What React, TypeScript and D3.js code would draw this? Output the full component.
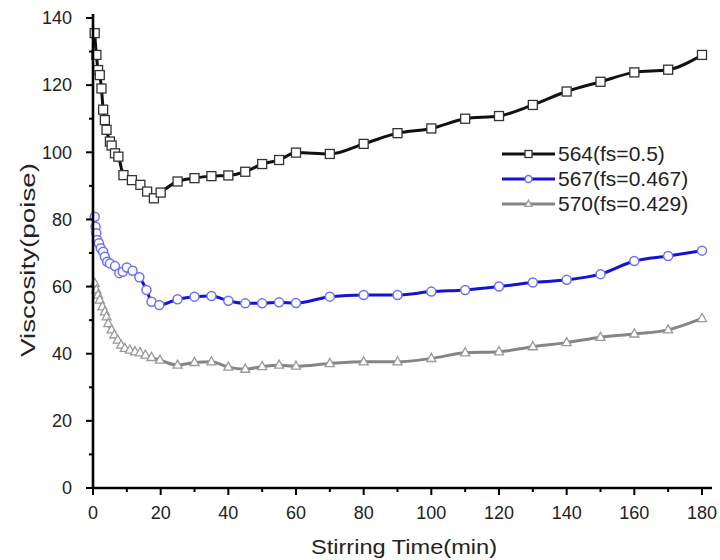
import React from "react";
import * as d3 from "d3";

const xTicks = [0, 20, 40, 60, 80, 100, 120, 140, 160, 180];
const xMinor = [10, 30, 50, 70, 90, 110, 130, 150, 170];
const yTicks = [0, 20, 40, 60, 80, 100, 120, 140];
const yMinor = [10, 30, 50, 70, 90, 110, 130];

const t564 = [0.5, 1, 1.5, 2, 2.5, 3, 3.5, 4, 5, 5.5, 6.5, 7.5, 9, 11.5, 14, 16, 18, 20, 25, 30, 35, 40, 45, 50, 55, 60, 70, 80, 90, 100, 110, 120, 130, 140, 150, 160, 170, 180];
const v564 = [135.5, 129, 124.5, 123, 119, 112.7, 109.6, 106.7, 103.2, 102, 99.7, 98.7, 93.2, 91.7, 90.3, 88.3, 86.3, 88, 91.3, 92.3, 92.9, 93.1, 94.2, 96.5, 97.7, 99.9, 99.5, 102.5, 105.7, 107.1, 110, 110.8, 114.1, 118.1, 121, 123.8, 124.6, 129];

const t567 = [0.5, 0.75, 1, 1.25, 1.75, 2.3, 3, 3.5, 4.2, 5, 6.5, 7.8, 8.8, 10, 11.7, 13.7, 15.8, 17.3, 19.6, 25, 30, 35, 40, 45, 50, 55, 60, 70, 80, 90, 100, 110, 120, 130, 140, 150, 160, 170, 180];
const v567 = [80.8, 77.8, 75.9, 73.9, 72.9, 71.4, 70.4, 68.9, 67.4, 66.9, 66.1, 64.0, 64.4, 65.7, 64.7, 62.8, 59.0, 55.5, 54.5, 56.2, 57.0, 57.2, 55.8, 55.0, 55.0, 55.3, 55.1, 57.0, 57.5, 57.5, 58.5, 59.0, 60.0, 61.2, 62.0, 63.7, 67.6, 69.1, 70.7];

const t570 = [0.5, 1, 1.5, 2, 2.8, 3.5, 4, 4.5, 5.5, 6.3, 7.3, 8.3, 9.4, 10.9, 12.4, 13.9, 15.5, 17.3, 19.8, 25, 30, 35, 40, 45, 50, 55, 60, 70, 80, 90, 100, 110, 120, 130, 140, 150, 160, 170, 180];
const v570 = [61.0, 59.0, 57.5, 56, 54, 52.5, 51, 49, 47.1, 45.6, 44.1, 42.6, 41.6, 41.1, 40.6, 40.3, 39.6, 38.9, 38.1, 36.6, 37.4, 37.6, 36.0, 35.4, 36.2, 36.6, 36.3, 37.1, 37.6, 37.6, 38.6, 40.3, 40.6, 42.1, 43.3, 44.9, 45.9, 47.1, 50.5];

const seriesNames = ["564(fs=0.5)", "567(fs=0.467)", "570(fs=0.429)"];

type Shape = "square" | "circle" | "triangle";

export default function App() {
  const W = 720, H = 560;
  const x = d3.scaleLinear().domain([0, 180]).range([93, 702]);
  const y = d3.scaleLinear().domain([0, 140]).range([488, 18]);
  const font = "'Liberation Sans', Arial, sans-serif";

  const series = [
    { name: seriesNames[2], t: t570, v: v570, line: "#858585", mStroke: "#9a9a9a", shape: "triangle" as Shape },
    { name: seriesNames[1], t: t567, v: v567, line: "#1414d2", mStroke: "#6f6ff5", shape: "circle" as Shape },
    { name: seriesNames[0], t: t564, v: v564, line: "#111111", mStroke: "#333333", shape: "square" as Shape },
  ];

  const lineGen = d3.line<[number, number]>().x(d => x(d[0])).y(d => y(d[1])).curve(d3.curveMonotoneX);

  const marker = (shape: Shape, cx: number, cy: number, stroke: string, s: number, key: any) => {
    if (shape === "square")
      return <rect key={key} x={cx - s / 2} y={cy - s / 2} width={s} height={s} fill="#fff" stroke={stroke} strokeWidth={1.3} />;
    if (shape === "circle")
      return <circle key={key} cx={cx} cy={cy} r={s / 2} fill="#fff" stroke={stroke} strokeWidth={1.5} />;
    const h = s * 0.9;
    const pts = `${cx},${cy - h * 0.62} ${cx - s / 2},${cy + h * 0.38} ${cx + s / 2},${cy + h * 0.38}`;
    return <polygon key={key} points={pts} fill="#fff" stroke={stroke} strokeWidth={1.3} />;
  };

  const legendOrder = [series[2], series[1], series[0]];

  return (
    <svg width={W} height={H} style={{ position: "absolute", left: 0, top: 0, background: "#fff" }} fontFamily={font}>
      <rect x={0} y={0} width={W} height={H} fill="#fff" />
      {series.map((s, i) => {
        const data: [number, number][] = s.t.map((t, j) => [t, s.v[j]]);
        return (
          <g key={i}>
            <path d={lineGen(data) || ""} fill="none" stroke={s.line} strokeWidth={3} strokeLinejoin="round" />
            {data.map((d, j) => marker(s.shape, x(d[0]), y(d[1]), s.mStroke, 9, j))}
          </g>
        );
      })}

      {/* axes */}
      <line x1={x(0)} x2={x(0)} y1={14} y2={y(0) + 1} stroke="#000" strokeWidth={2.6} />
      <line x1={x(0) - 1} x2={712} y1={y(0)} y2={y(0)} stroke="#000" strokeWidth={2.6} />
      {yTicks.map(v => (
        <g key={"yt" + v}>
          <line x1={x(0) - 7} x2={x(0)} y1={y(v)} y2={y(v)} stroke="#000" strokeWidth={2} />
          <text x={72} y={y(v)} dy="0.35em" textAnchor="end" fontSize={18} fill="#222">{v}</text>
        </g>
      ))}
      {yMinor.map(v => (
        <line key={"ym" + v} x1={x(0) - 4} x2={x(0)} y1={y(v)} y2={y(v)} stroke="#000" strokeWidth={2} />
      ))}
      {xTicks.map(v => (
        <g key={"xt" + v}>
          <line x1={x(v)} x2={x(v)} y1={y(0)} y2={y(0) + 7} stroke="#000" strokeWidth={2} />
          <text x={x(v)} y={513} dy="0.35em" textAnchor="middle" fontSize={18} fill="#222">{v}</text>
        </g>
      ))}
      {xMinor.map(v => (
        <line key={"xm" + v} x1={x(v)} x2={x(v)} y1={y(0)} y2={y(0) + 4} stroke="#000" strokeWidth={2} />
      ))}

      <text x={404} y={547} dy="0.35em" textAnchor="middle" fontSize={20} fill="#222" textLength={186} lengthAdjust="spacingAndGlyphs">Stirring Time(min)</text>
      <text transform={`translate(28,260) rotate(-90)`} textAnchor="middle" dy="0.35em" fontSize={20} fill="#222" textLength={194} lengthAdjust="spacingAndGlyphs">Viscosity(poise)</text>

      {/* legend */}
      {legendOrder.map((s, i) => {
        const ly = 154 + i * 25;
        return (
          <g key={"lg" + i}>
            <line x1={502} x2={555} y1={ly} y2={ly} stroke={s.line} strokeWidth={3} />
            {marker(s.shape, 528.5, ly, s.mStroke, 7, "m")}
            <text x={558} y={ly} dy="0.35em" fontSize={21} fill="#222">{s.name}</text>
          </g>
        );
      })}
    </svg>
  );
}
